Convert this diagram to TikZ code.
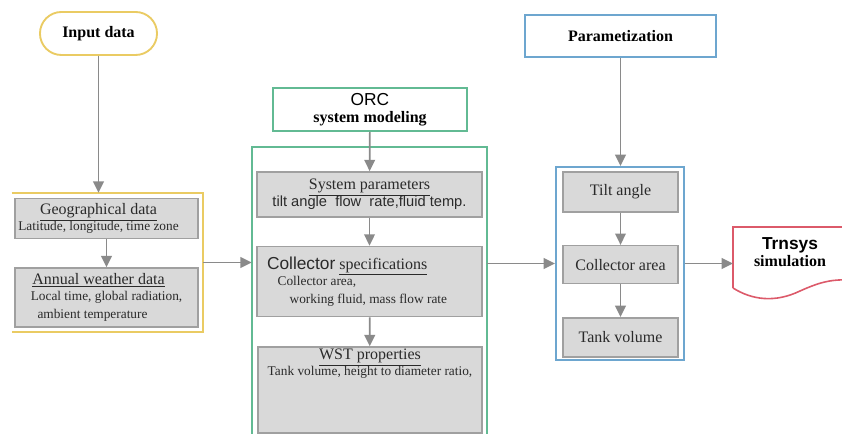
\documentclass[tikz,border=0pt]{standalone}
\usepackage{fontspec}
\setmainfont{Liberation Serif}
\setsansfont{Liberation Sans}
\usepackage{xcolor}
\usetikzlibrary{arrows.meta,positioning,calc}

\definecolor{inyellow}{HTML}{EACB63}
\definecolor{orcgreen}{HTML}{62BA93}
\definecolor{parblue}{HTML}{6DA6CF}
\definecolor{simred}{HTML}{DC5A6A}
\definecolor{boxgray}{HTML}{D9D9D9}
\definecolor{edgegray}{HTML}{A0A0A0}
\definecolor{arrgray}{HTML}{8A8A8A}
\definecolor{txtgray}{HTML}{2A2A2A}

\tikzset{
    graybox/.style={draw=edgegray, fill=boxgray, rectangle, line width=1.2pt, text=txtgray, align=center, inner sep=2pt},
    headbox/.style={draw, rectangle, fill=white, line width=1.4pt, align=center, font=\fontsize{12}{14}\selectfont},
    frame/.style={rectangle, draw=none, inner sep=0pt},
    flow/.style={->, draw=arrgray, fill=arrgray, line width=1.3pt},
}
\newcommand{\smalltext}{\fontsize{10}{12.5}\selectfont}

\begin{document}
\begin{tikzpicture}[x=0.75pt, y=-0.75pt, >={Triangle[length=8.5pt,width=8pt]},
                    font=\fontsize{12}{14}\selectfont]
                \useasboundingbox (0,0) rectangle (842,434);
                \clip (0,0) rectangle (842,434);

                \node[headbox, draw=inyellow, rounded corners=16pt, minimum width=87.75pt, minimum height=32.25pt] (input) at (98.5,33.5) {\bfseries Input data};
                \node[headbox, draw=orcgreen, minimum width=145.5pt, minimum height=32.25pt] (orc) at (370,109.5) {{\sffamily\fontsize{13}{14}\selectfont ORC}\\[-1pt]\bfseries system modeling};
                \node[headbox, draw=parblue, minimum width=143.25pt, minimum height=31.5pt] (param) at (620.5,36) {\bfseries Parametization};

                \node[frame, minimum width=143.25pt, minimum height=104.25pt] (inputframe) at (107.5,262.5) {};
                \node[frame, minimum width=176.25pt, minimum height=215.25pt] (orcframe) at (369.5,290.5) {};
                \node[frame, draw=parblue, line width=1.4pt, minimum width=96pt, minimum height=144.75pt] (paramframe) at (620,263.5) {};
                \draw[inyellow, line width=1.4pt] (inputframe.north west) -- (inputframe.north east) -- (inputframe.south east) -- (inputframe.south west);
                \draw[orcgreen, line width=1.4pt] (orcframe.south west) -- (orcframe.north west) -- (orcframe.north east) -- (orcframe.south east);

                \node[graybox, minimum width=137.25pt, minimum height=30pt] (geo) at (106.5,218.5) {\underline{Geographical data}\hspace*{12pt}\\[-2pt]{\smalltext Latitude, longitude, time zone\hspace*{12pt}}};
                \node[graybox, minimum width=137.25pt, minimum height=44.25pt] (annual) at (106.5,297.5) {\underline{Annual weather data}\hspace*{12pt}\\[-2pt]{\smalltext Local time, global radiation,\hspace*{21pt}}\\{\smalltext ambient temperature\hspace*{21pt}}};

                \node[graybox, minimum width=168.75pt, minimum height=33.75pt] (syspar) at (369.5,194.5) {\underline{System parameters}\\[-1pt]{\sffamily\fontsize{11}{13}\selectfont tilt angle \ flow \ rate,fluid temp.}};
                \node[graybox, align=flush left, text width=153.75pt, inner sep=7.5pt, minimum height=47.25pt] (collspec) at (369.5,281.5) {{\sffamily\fontsize{13}{14}\selectfont Collector} \underline{specifications}\\[-2pt]{\smalltext\hspace*{8pt}Collector area,}\\{\smalltext\hspace*{17pt}working fluid, mass flow rate}};
                \node[graybox, minimum width=168pt, minimum height=64.5pt] (wst) at (370,390) {};
                \node[text=txtgray, align=center, anchor=north, inner sep=2pt] (wsttext) at (wst.north) {\underline{WST properties}\\[-2pt]{\smalltext Tank volume, height to diameter ratio,}};

                \begin{scope}[node distance=54.5pt]
                \node[graybox, minimum width=86.25pt, minimum height=30pt] (tilt) at (620.5,192) {Tilt angle};
                \node[graybox, minimum width=86.25pt, minimum height=28.5pt, below of=tilt] (carea) {Collector area};
                \node[graybox, minimum width=86.25pt, minimum height=29.25pt, below of=carea] (tank) {Tank volume};
                \end{scope}

                \draw[simred, line width=1.2pt] (733,288) -- (733,227) -- (850,227)
                    (733,288) .. controls (752,300) and (775,303) .. (800,291) .. controls (818,283) and (830,279) .. (850,280);
                \node[align=center, inner sep=1pt] (trnsys) at (790,252) {{\sffamily\bfseries\fontsize{13}{14}\selectfont Trnsys}\\[-1pt]\bfseries simulation};
                \coordinate (trnsysin) at (733,263.5);

                \draw[flow] (input) -- (input |- inputframe.north);
                \draw[flow] (geo) -- (annual);
                \draw[flow] (inputframe.east) -- (inputframe.east -| orcframe.west);
                \draw[flow] (orc) -- (syspar);
                \draw[flow] (syspar) -- (collspec);
                \draw[flow] (collspec) -- (wst);
                \draw[flow] (orcframe.east |- paramframe.west) -- (paramframe.west);
                \draw[flow] (param) -- (param |- paramframe.north);
                \draw[flow] (tilt) -- (carea);
                \draw[flow] (carea) -- (tank);
                \draw[flow] (paramframe.east) -- (trnsysin);
            \end{tikzpicture}
\end{document}
